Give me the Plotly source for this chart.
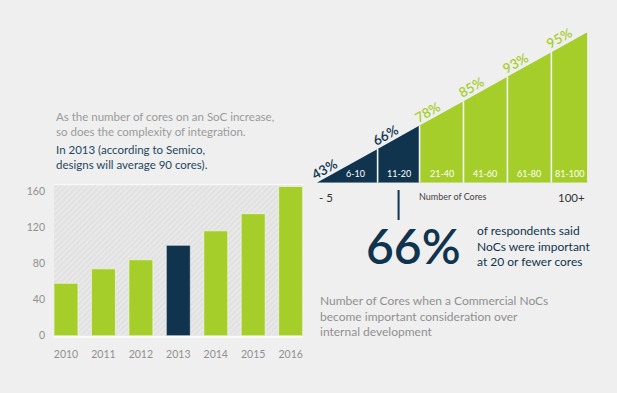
import plotly.graph_objects as go

# ---------------- data ----------------
years = ["2010", "2011", "2012", "2013", "2014", "2015", "2016"]
avg_cores = [58, 74, 84, 100, 116, 135, 165]
highlight_year = "2013"
y_tick_vals = [0, 40, 80, 120, 160]

core_ranges = ["6-10", "11-20", "21-40", "41-60", "61-80", "81-100"]
pct_important = [43, 66, 78, 85, 93, 95]
range_widths = [61, 42, 44, 44, 44, 36]   # relative widths of wedge segments
n_dark = 2                                 # segments up to 20 cores (highlighted)

# ---------------- style ----------------
W, H = 617, 393
BG = "#efefef"
GREEN = "#a6ce2a"
NAVY = "#10344d"
GRAY = "#8f8f8f"
FONT = "Lato, sans-serif"

def px_x(p):
    return p / W

def px_y(p):
    return 1 - p / H

fig = go.Figure()

# ---------------- left bar chart ----------------
idx = list(range(len(years)))
y_top = 167.3
fig.add_trace(go.Bar(
    x=[(len(years) - 1) / 2], y=[y_top], width=[len(years) + 1],
    marker=dict(color="#e2e2e2",
                pattern=dict(shape="/", fgcolor="#f3f3f3", bgcolor="#e1e1e1",
                             size=4, solidity=0.4),
                line=dict(width=0)),
    hoverinfo="skip", showlegend=False, xaxis="x", yaxis="y"))

fig.add_trace(go.Bar(
    x=idx, y=avg_cores, width=0.64,
    marker=dict(color=[NAVY if yr == highlight_year else GREEN for yr in years],
                line=dict(color="rgba(255,255,255,0.55)", width=1)),
    hoverinfo="skip", showlegend=False, xaxis="x", yaxis="y"))

# ---------------- wedge chart ----------------
bounds = [0]
for w in range_widths:
    bounds.append(bounds[-1] + w)
T = bounds[-1]

for i, rng in enumerate(core_ranges):
    b0, b1 = bounds[i], bounds[i + 1]
    fig.add_trace(go.Scatter(
        x=[b0, b1, b1, b0, b0], y=[0, 0, b1 / T, b0 / T, 0],
        fill="toself", fillcolor=NAVY if i < n_dark else GREEN,
        mode="lines", line=dict(width=0), hoverinfo="skip",
        showlegend=False, xaxis="x2", yaxis="y2"))

dx, dy = [], []
for b in bounds[1:-1]:
    dx += [b, b, None]
    dy += [0, b / T, None]
fig.add_trace(go.Scatter(x=dx, y=dy, mode="lines",
                         line=dict(color="#f4f4f4", width=1.6),
                         hoverinfo="skip", showlegend=False,
                         xaxis="x2", yaxis="y2"))

annotations = []
std_w = 44
for i, rng in enumerate(core_ranges):
    b0, b1 = bounds[i], bounds[i + 1]
    cx = (max(b0, b1 - std_w) + b1) / 2
    annotations.append(dict(x=cx, y=0.065, xref="x2", yref="y2", text=rng,
                            showarrow=False, xanchor="center", yanchor="middle",
                            font=dict(family=FONT, size=9, color="white")))
    annotations.append(dict(x=b0, y=b0 / T, xref="x2", yref="y2",
                            text=f"{pct_important[i]}%", showarrow=False,
                            xanchor="center", yanchor="middle",
                            xshift=8, yshift=14, textangle=-29.5,
                            font=dict(family=FONT, size=13.5, weight=600,
                                      color=NAVY if i < n_dark else GREEN)))

# axis-like labels under the wedge
annotations += [
    dict(x=0, y=px_y(201), xref="x2", yref="paper", text="- 5", showarrow=False,
         xanchor="left", yanchor="middle", font=dict(family=FONT, size=11.5, color="#333")),
    dict(x=T, y=px_y(201), xref="x2", yref="paper", text="100+", showarrow=False,
         xanchor="right", yanchor="middle", font=dict(family=FONT, size=11.5, color="#333")),
    dict(x=px_x(417), y=px_y(200), xref="paper", yref="paper", text="Number of Cores",
         showarrow=False, xanchor="left", yanchor="middle",
         font=dict(family=FONT, size=9, color="#444")),
]

# big stat
annotations += [
    dict(x=px_x(364), y=px_y(249), xref="paper", yref="paper", text="66%",
         showarrow=False, xanchor="left", yanchor="middle",
         font=dict(family=FONT, size=48, weight=600, color=NAVY)),
    dict(x=px_x(475), y=px_y(249.5), xref="paper", yref="paper",
         text="of respondents said<br>NoCs were important<br>at 20 or fewer cores",
         showarrow=False, xanchor="left", yanchor="middle", align="left",
         font=dict(family=FONT, size=12, color=NAVY)),
    dict(x=px_x(318), y=px_y(321), xref="paper", yref="paper",
         text="Number of Cores when a Commercial NoCs<br>become important consideration over<br>internal development",
         showarrow=False, xanchor="left", yanchor="middle", align="left",
         font=dict(family=FONT, size=12, color=GRAY)),
    dict(x=px_x(54), y=px_y(126), xref="paper", yref="paper",
         text="As the number of cores on an SoC increase,<br>so does the complexity of integration.",
         showarrow=False, xanchor="left", yanchor="middle", align="left",
         font=dict(family=FONT, size=11.5, color="#9a9a9a")),
    dict(x=px_x(54), y=px_y(159), xref="paper", yref="paper",
         text="In 2013 (according to Semico,<br>designs will average 90 cores).",
         showarrow=False, xanchor="left", yanchor="middle", align="left",
         font=dict(family=FONT, size=11.5, color="#24465e")),
]

shapes = [
    dict(type="line", xref="x domain", yref="y domain", x0=0, x1=1, y0=1, y1=1,
         line=dict(color="#f8f8f8", width=1.5)),
    dict(type="line", xref="x2", yref="paper",
         x0=(bounds[1] + bounds[2]) / 2, x1=(bounds[1] + bounds[2]) / 2,
         y0=px_y(193), y1=px_y(223.5), line=dict(color=NAVY, width=2)),
]

fig.update_layout(
    width=W, height=H, margin=dict(l=0, r=0, t=0, b=0),
    paper_bgcolor=BG, plot_bgcolor="rgba(0,0,0,0)",
    barmode="overlay", showlegend=False,
    font=dict(family=FONT),
    xaxis=dict(domain=[px_x(54), px_x(303)], range=[-0.32, len(years) - 1 + 0.33],
               tickmode="array", tickvals=idx, ticktext=years,
               tickfont=dict(size=10.5, color=GRAY), showgrid=False, zeroline=False,
               showline=True, linecolor="#fafafa", linewidth=1.5,
               ticks="", ticklabelstandoff=8, fixedrange=True),
    yaxis=dict(domain=[px_y(341), px_y(187.3)], range=[0, y_top],
               tickmode="array", tickvals=y_tick_vals,
               tickfont=dict(size=10.5, color=GRAY), showgrid=False, zeroline=False,
               ticks="", ticklabelstandoff=8, fixedrange=True),
    xaxis2=dict(domain=[px_x(316.7), px_x(587.3)], range=[0, T], anchor="y2",
                visible=False, fixedrange=True),
    yaxis2=dict(domain=[px_y(185.7), px_y(32.7)], range=[0, 1], anchor="x2",
                visible=False, fixedrange=True),
    annotations=annotations, shapes=shapes,
)

fig.write_html("out.html", config={"displayModeBar": False},
               post_script="document.body.style.margin='0';document.body.style.background='" + BG + "';")
